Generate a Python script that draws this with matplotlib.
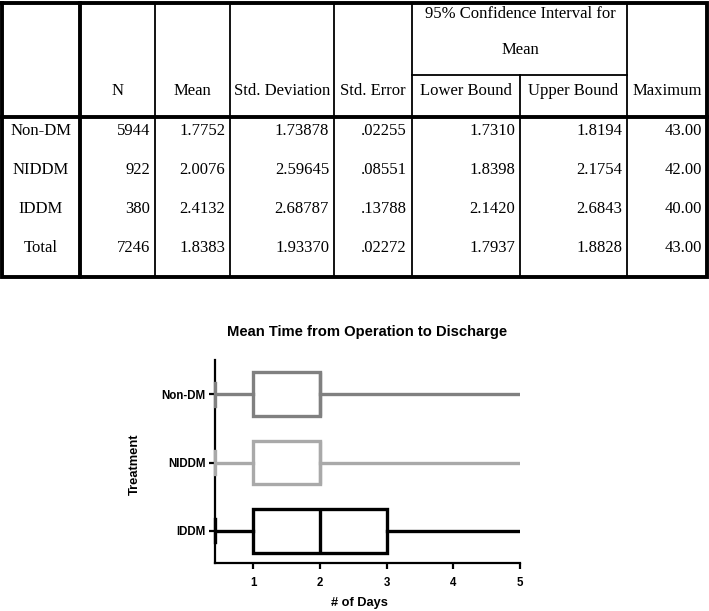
import matplotlib
matplotlib.use("Agg")
import matplotlib.pyplot as plt

# table data
row_names = ["Non-DM", "NIDDM", "IDDM", "Total"]
n_vals = ["5944", "922", "380", "7246"]
mean_vals = ["1.7752", "2.0076", "2.4132", "1.8383"]
sd_vals = ["1.73878", "2.59645", "2.68787", "1.93370"]
se_vals = [".02255", ".08551", ".13788", ".02272"]
lower_vals = ["1.7310", "1.8398", "2.1420", "1.7937"]
upper_vals = ["1.8194", "2.1754", "2.6843", "1.8828"]
max_vals = ["43.00", "42.00", "40.00", "43.00"]
col_heads = ["N", "Mean", "Std. Deviation", "Std. Error", "Lower Bound", "Upper Bound", "Maximum"]

# box plot data (days)
groups = ["Non-DM", "NIDDM", "IDDM"]
q1 = [1, 1, 1]
median = [2, 2, 2]
q3 = [2, 2, 3]
whisker_low = [0.43, 0.43, 0.43]
whisker_high = [43, 42, 40]
box_colors = ["#808080", "#a9a9a9", "#000000"]

W, H = 709, 611
fig = plt.figure(figsize=(W / 100, H / 100), dpi=100)

# ---- table, drawn in pixel coordinates ----
tab = fig.add_axes([0, 0, 1, 1])
tab.set_xlim(0, W)
tab.set_ylim(H, 0)
tab.axis("off")

col_x = [80, 155, 230, 334, 412, 520, 627, 707]
top, head_bot, bot = 3, 117, 277
thin, thick = 1.3, 2.8

tab.plot([2, 707, 707, 2, 2], [top, top, bot, bot, top], color="black", lw=thick, solid_joinstyle="miter")
tab.plot([80, 80], [top, bot], color="black", lw=thick)
tab.plot([2, 707], [head_bot, head_bot], color="black", lw=thick)
for x in [155, 230, 334, 412, 627]:
    tab.plot([x, x], [top, bot], color="black", lw=thin)
tab.plot([520, 520], [75, bot], color="black", lw=thin)
tab.plot([412, 627], [75, 75], color="black", lw=thin)

serif = dict(family="Liberation Serif", fontsize=12, color="black")
tab.text(520, 14, "95% Confidence Interval for", ha="center", va="center", **serif)
tab.text(520, 50, "Mean", ha="center", va="center", **serif)
for i, h in enumerate(col_heads):
    cx = (col_x[i] + col_x[i + 1]) / 2
    tab.text(cx, 91, h, ha="center", va="center", **serif)

row_y = [131, 170, 209, 248]
columns = [n_vals, mean_vals, sd_vals, se_vals, lower_vals, upper_vals, max_vals]
for r, name in enumerate(row_names):
    tab.text(41, row_y[r], name, ha="center", va="center", **serif)
    for c, vals in enumerate(columns):
        tab.text(col_x[c + 1] - 5, row_y[r], vals[r], ha="right", va="center", **serif)

# ---- box plot ----
ax = fig.add_axes([215 / W, (H - 563) / H, (520 - 215) / W, (563 - 360) / H])
positions = [2, 1, 0]
stats = []
for i, g in enumerate(groups):
    stats.append(dict(label=g, q1=q1[i], med=median[i], q3=q3[i],
                      whislo=whisker_low[i], whishi=whisker_high[i], fliers=[]))

for i, s in enumerate(stats):
    c = box_colors[i]
    lw = 2.4
    art = ax.bxp([s], positions=[positions[i]], vert=False, widths=0.64, capwidths=0.34,
                 patch_artist=True, showfliers=False,
                 boxprops=dict(facecolor="white", edgecolor=c, linewidth=lw),
                 whiskerprops=dict(color=c, linewidth=lw),
                 capprops=dict(color=c, linewidth=lw),
                 medianprops=dict(color=c, linewidth=lw))
    for k in art:
        for a in art[k]:
            a.set_zorder(3)
    art["caps"][0].set_clip_on(False)

ax.set_xlim(0.43, 5)
ax.set_ylim(-0.47, 2.5)
ax.set_xticks([1, 2, 3, 4, 5])
ax.set_yticks(positions)
ax.set_yticklabels(groups)
for side in ["top", "right"]:
    ax.spines[side].set_visible(False)
for side in ["left", "bottom"]:
    ax.spines[side].set_linewidth(1.6)
ax.tick_params(axis="both", length=4, width=1.6, labelsize=8.3)
ax.tick_params(axis="y", pad=3)
ax.tick_params(axis="x", pad=6)
for lab in ax.get_xticklabels() + ax.get_yticklabels():
    lab.set_fontweight("bold")
    lab.set_family("Liberation Sans")

sans = dict(family="Liberation Sans", fontweight="bold", color="black")
fig.text(367 / W, 1 - 332 / H, "Mean Time from Operation to Discharge", ha="center", va="center", fontsize=10.6, **sans)
fig.text(359 / W, 1 - 603 / H, "# of Days", ha="center", va="center", fontsize=9.2, **sans)
fig.text(135 / W, 1 - 464 / H, "Treatment", ha="center", va="center", rotation=90, fontsize=9.3, **sans)

fig.savefig("out.png", dpi=100)
